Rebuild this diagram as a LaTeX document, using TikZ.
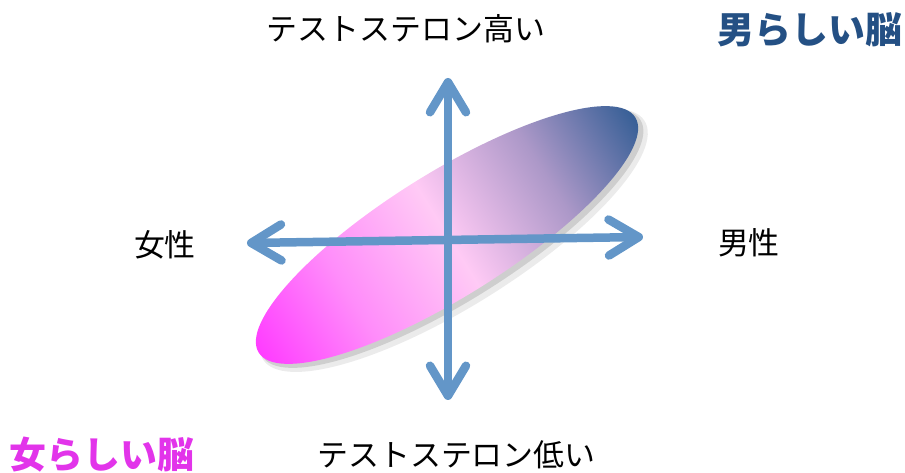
\documentclass[tikz,border=0pt]{standalone}
\usepackage{fontspec}
\newfontfamily\jpfont{Noto Sans CJK JP}
\usepackage{xcolor}
\usetikzlibrary{arrows.meta, positioning}
\definecolor{axisblue}{RGB}{99,150,200}
\definecolor{femcolor}{RGB}{226,52,234}
\definecolor{masccolor}{RGB}{36,80,132}
\definecolor{brainmag}{RGB}{255,60,255}
\definecolor{brainpinkmid}{RGB}{255,140,250}
\definecolor{brainpink}{RGB}{255,202,245}
\definecolor{brainlav}{RGB}{172,152,200}
\definecolor{brainblue}{RGB}{55,95,150}
\pgfdeclarehorizontalshading{brainshade}{100bp}{color(0bp)=(brainmag); color(25bp)=(brainmag); color(37bp)=(brainpinkmid); color(50bp)=(brainpink); color(63bp)=(brainlav); color(75bp)=(brainblue); color(100bp)=(brainblue)}

\begin{document}
\begin{tikzpicture}[
  axisarrow/.style={draw=axisblue, line width=0.085cm, line cap=round,
    {Straight Barb[round, length=3mm, width=3.6mm]}-{Straight Barb[round, length=3mm, width=3.6mm]}},
  lbl/.style={font=\jpfont\fontsize{8.8}{10}\selectfont, inner sep=0pt},
  brainlbl/.style={font=\jpfont\bfseries\fontsize{10.5}{12}\selectfont, inner sep=0pt}
]
\useasboundingbox (0, 0) rectangle (9.05, 4.73);
% ellipse
\begin{scope}[transform canvas={shift={(4.47, 2.38)}, rotate=32}]
\fill [black, opacity=0.08] (0.03, -0.08) ellipse (2.25 and 0.66);
\fill [black, opacity=0.12] (0.02, -0.05) ellipse (2.23 and 0.63);
\shade [shading=brainshade] (0, 0) ellipse (2.22 and 0.62);
\end{scope}
% axis ends
\coordinate (top) at (4.48, 3.95);
\coordinate (bottom) at (4.48, 0.73);
\coordinate (left) at (2.47, 2.30);
\coordinate (right) at (6.43, 2.36);
\draw [axisarrow] (bottom) -- (top);
\draw [axisarrow] (left) -- (right);
% labels
\node [lbl] (high) at (4.06, 4.44) {テストステロン高い};
\node [lbl] (low) at (4.565, 0.18) {テストステロン低い};
\node [lbl] (female) at (1.65, 2.28) {女性};
\node [lbl] (male) at (7.49, 2.30) {男性};
\node [brainlbl, text=masccolor] (mbrain) at (8.10, 4.43) {男らしい脳};
\node [brainlbl, text=femcolor] (fbrain) at (1.02, 0.18) {女らしい脳};
\end{tikzpicture}
\end{document}
